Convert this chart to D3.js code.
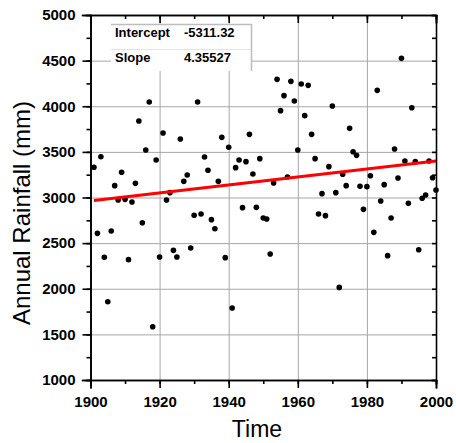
<!DOCTYPE html>
<html>
<head>
<meta charset="utf-8">
<script src="https://cdn.jsdelivr.net/npm/d3@7"></script>
<style>
  body { margin: 0; background: #fff; }
  svg { display: block; font-family: "Liberation Sans", Arial, sans-serif; }
  .axis path, .axis line { stroke: #000; stroke-width: 1.6; }
  .axis text { font-size: 15px; font-weight: bold; fill: #000; }
  .grid line { stroke: #a6a6a6; stroke-width: 1; }
  .grid path { display: none; }
  .dot { fill: #000; }
  .fit { stroke: #ff0000; stroke-width: 3; fill: none; }
  .title { font-size: 23px; fill: #000; }
  .stats text { font-size: 13px; font-weight: bold; fill: #000; }
</style>
</head>
<body>
<svg id="chart" width="456" height="443"></svg>
<script>
// annual rainfall, one value per year 1901..2000
const years = d3.range(1901, 2001);
const rainfall = [
  3331, 2607, 3447, 2344, 1858, 2633, 3130, 2973, 3276, 2980,
  2319, 2951, 3155, 3838, 2724, 3521, 4047, 1584, 3411, 2348,
  3707, 2973, 3053, 2421, 2348, 3641, 3177, 3247, 2447, 2805,
  4047, 2819, 3444, 3298, 2757, 2658, 3177, 3659, 2341, 3550,
  1789, 3327, 3411, 2889, 3393, 3692, 3258, 2892, 3426, 2775,
  2764, 2381, 3159, 4295, 3952, 4116, 3225, 4273, 4058, 3521,
  4244, 3897, 4229, 3692, 3426, 2819, 3042, 2801, 3338, 4003,
  3053, 2015, 3254, 3130, 3758, 3502, 3462, 3122, 2870, 3119,
  3239, 2618, 4174, 2962, 3141, 2363, 2775, 3532, 3214, 4525,
  3400, 2936, 3984, 3393, 2428, 2991, 3027, 3400, 3217, 3082
];

const fitLabels = ['Intercept', 'Slope'];
const fitValues = ['-5311.32', '4.35527'];
const intercept = -5311.32;
const slope = 4.35527;

const xMajor = [1900, 1920, 1940, 1960, 1980, 2000];
const xMinor = d3.range(1900, 2001, 10);
const yMajor = d3.range(1000, 5001, 500);
const yMinor = d3.range(1000, 5001, 250);

const plotLeft = 90.5, plotRight = 436, plotTop = 15, plotBottom = 380;

const svg = d3.select('#chart');

const x = d3.scaleLinear().domain([1900, 2000]).range([plotLeft, plotRight]);
const y = d3.scaleLinear().domain([1000, 5000]).range([plotBottom, plotTop]);

// grid
svg.append('g')
  .classed('grid', true)
  .attr('transform', `translate(0,${plotBottom})`)
  .call(d3.axisBottom(x).tickValues(xMajor.slice(1, -1)).tickSize(-(plotBottom - plotTop)).tickFormat(''));
svg.append('g')
  .classed('grid', true)
  .attr('transform', `translate(${plotLeft},0)`)
  .call(d3.axisLeft(y).tickValues(yMajor.slice(1, -1)).tickSize(-(plotRight - plotLeft)).tickFormat(''));

// fit stats box
const box = svg.append('g').classed('stats', true);
box.append('rect')
  .attr('x', 111).attr('y', 24).attr('width', 141).attr('height', 47)
  .attr('fill', '#fff');
box.append('path')
  .attr('d', 'M111,24.5H251.5V71')
  .attr('stroke', '#bdbdbd').attr('stroke-width', 1.5).attr('fill', 'none');
box.append('line')
  .attr('x1', 111).attr('x2', 251).attr('y1', 49.5).attr('y2', 49.5)
  .attr('stroke', '#e4e4e4');
fitLabels.forEach((lab, i) => {
  box.append('text').attr('x', 115).attr('y', 37 + i * 25).text(lab);
  box.append('text').attr('x', 184).attr('y', 37 + i * 25).text(fitValues[i]);
});

// points
svg.append('g')
  .selectAll('circle')
  .data(years.map((yr, i) => [yr, rainfall[i]]))
  .enter()
  .append('circle')
  .classed('dot', true)
  .attr('cx', d => x(d[0]))
  .attr('cy', d => y(d[1]))
  .attr('r', 2.8);

// linear fit
const lineFunction = d3.line()
  .x(d => x(d))
  .y(d => y(intercept + slope * d));
svg.append('path')
  .classed('fit', true)
  .attr('d', lineFunction([years[0], years[years.length - 1]]));

// axes
const addAxis = (axis, tx, ty) => svg.append('g')
  .classed('axis', true)
  .attr('transform', `translate(${tx},${ty})`)
  .call(axis);

addAxis(d3.axisBottom(x).tickValues(xMinor).tickSize(4).tickFormat(''), 0, plotBottom);
addAxis(d3.axisBottom(x).tickValues(xMajor).tickSize(8).tickPadding(8).tickFormat(d3.format('d')), 0, plotBottom);
addAxis(d3.axisTop(x).tickValues(xMinor).tickSize(-4).tickFormat(''), 0, plotTop);
addAxis(d3.axisTop(x).tickValues(xMajor).tickSize(-8).tickFormat(''), 0, plotTop);
addAxis(d3.axisLeft(y).tickValues(yMinor).tickSize(4).tickFormat(''), plotLeft, 0);
addAxis(d3.axisLeft(y).tickValues(yMajor).tickSize(8).tickPadding(7).tickFormat(d3.format('d')), plotLeft, 0);
addAxis(d3.axisRight(y).tickValues(yMinor).tickSize(-4).tickFormat(''), plotRight, 0);

svg.selectAll('.axis path').attr('stroke-linecap', 'square');

// titles
svg.append('text')
  .classed('title', true)
  .attr('x', 257).attr('y', 437)
  .attr('text-anchor', 'middle')
  .text('Time');
svg.append('text')
  .classed('title', true)
  .attr('transform', 'translate(30,213) rotate(-90)')
  .attr('text-anchor', 'middle')
  .style('font-size', '24px')
  .text('Annual Rainfall (mm)');
</script>
</body>
</html>
